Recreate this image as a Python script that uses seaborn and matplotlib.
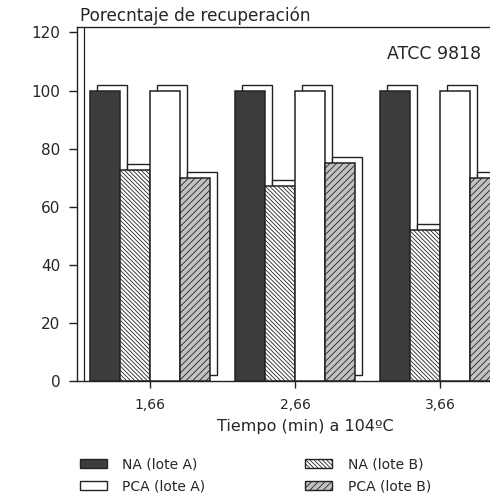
import numpy as np
import pandas as pd
import matplotlib
matplotlib.use("Agg")
import matplotlib.pyplot as plt
import matplotlib.transforms as mtransforms
from matplotlib.patches import Rectangle, Patch
import seaborn as sns

# datos
tiempos = ["1,66", "2,66", "3,66"]
series = ["NA (lote A)", "NA (lote B)", "PCA (lote A)", "PCA (lote B)"]
na_a = [100, 100, 100]
na_b = [72.5, 67, 52]
pca_a = [100, 100, 100]
pca_b = [70, 75, 70]

colores = ["#3c3c3c", "white", "white", "#c2c2c2"]
tramas = ["", "\\" * 8, "", "/" * 5]

df = pd.DataFrame({
    "tiempo": tiempos * 4,
    "serie": np.repeat(series, 3),
    "valor": na_a + na_b + pca_a + pca_b,
})

sns.set_style("white")
plt.rcParams["font.family"] = ["DejaVu Sans"]
plt.rcParams["hatch.linewidth"] = 0.6

fig = plt.figure(figsize=(4.9, 4.99), dpi=100)
ax = fig.add_axes([0.157, 0.2365, 0.843, 0.7102])

sns.barplot(data=df, x="tiempo", y="valor", hue="serie", order=tiempos,
            hue_order=series, width=0.83, ax=ax, legend=False,
            palette=["white"] * 4, saturation=1)

# efecto 3D: caja blanca desplazada detras de cada barra
sombra = mtransforms.offset_copy(ax.transData, fig=fig, x=7, y=6, units="dots")
for cont, col, tr in zip(ax.containers, colores, tramas):
    for p in cont.patches:
        p.set_facecolor(col)
        p.set_hatch(tr)
        p.set_edgecolor("#222222")
        p.set_linewidth(1.1)
        p.set_zorder(3)
        r = Rectangle(p.get_xy(), p.get_width(), p.get_height(),
                      facecolor="white", edgecolor="#222222", linewidth=1.0,
                      transform=sombra, zorder=2, clip_on=True)
        ax.add_patch(r)

ax.set_xlim(-0.505, 2.343)
ax.set_ylim(0, 122)
ax.set_yticks([0, 20, 40, 60, 80, 100, 120])
ax.tick_params(axis="y", direction="out", length=6, width=1, labelsize=11,
               left=True, color="#222222", pad=6)
ax.tick_params(axis="x", direction="out", length=5, width=1, labelsize=10,
               bottom=True, color="#222222", pad=7)
ax.set_xlabel("Tiempo (min) a 104ºC", fontsize=11.5, labelpad=5, x=0.552)
ax.set_ylabel("")

for s in ["left", "bottom", "top"]:
    ax.spines[s].set_visible(True)
    ax.spines[s].set_color("#222222")
    ax.spines[s].set_linewidth(1.0)
ax.spines["right"].set_visible(False)
# pared trasera
ax.plot([0.018, 0.018], [0, 1], transform=ax.transAxes, color="#222222",
        lw=0.9, zorder=1, clip_on=False)

fig.text(0.163, 0.968, "Porecntaje de recuperación", fontsize=12.2,
         ha="left", va="center")
ax.text(0.75, 0.923, "ATCC 9818", transform=ax.transAxes, fontsize=12.5,
        ha="left", va="center")

handles = [Patch(facecolor=c, edgecolor="#222222", hatch=h, label=s)
           for s, c, h in zip(series, colores, tramas)]
orden = [0, 2, 1, 3]
fig.legend([handles[i] for i in orden], [series[i] for i in orden],
           loc="upper left", bbox_to_anchor=(0.163, 0.084), ncol=2,
           frameon=False, fontsize=10, handlelength=1.95, handleheight=0.65,
           handletextpad=1.1, columnspacing=7.2, labelspacing=0.6,
           borderaxespad=0, borderpad=0)

fig.savefig("out.png", dpi=100)
